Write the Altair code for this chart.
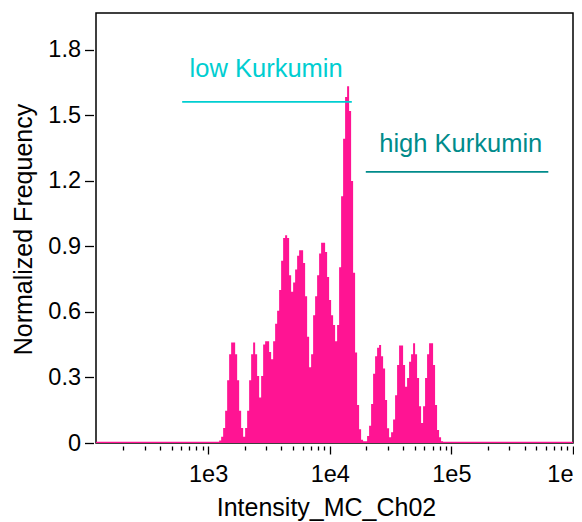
import altair as alt
import pandas as pd

# ---------------- data ----------------
# histogram on log10 bins (regular width in log10 units)
BIN_LOG10_START = 3.0575
BIN_LOG10_WIDTH = 0.01644
FREQ = [
    0.006, 0.006, 0.012, 0.029, 0.069, 0.148, 0.287, 0.406, 0.460, 0.460,
    0.406, 0.287, 0.148, 0.069, 0.029, 0.069, 0.148, 0.287, 0.406, 0.460,
    0.406, 0.307, 0.208, 0.307, 0.451, 0.466, 0.466, 0.416, 0.383, 0.466,
    0.546, 0.605, 0.700, 0.834, 0.938, 0.951, 0.938, 0.768, 0.692, 0.734,
    0.794, 0.857, 0.882, 0.882, 0.824, 0.672, 0.486, 0.347, 0.406, 0.585,
    0.672, 0.768, 0.867, 0.917, 0.917, 0.874, 0.760, 0.654, 0.585, 0.540,
    0.466, 0.540, 0.804, 1.129, 1.393, 1.584, 1.633, 1.519, 1.199, 0.779,
    0.414, 0.174, 0.063, 0.015, 0.008, 0.008, 0.032, 0.079, 0.178, 0.317,
    0.397, 0.436, 0.448, 0.397, 0.341, 0.197, 0.067, 0.026, 0.049, 0.108,
    0.218, 0.357, 0.446, 0.446, 0.357, 0.257, 0.297, 0.372, 0.406, 0.456,
    0.406, 0.297, 0.168, 0.091, 0.168, 0.297, 0.406, 0.456, 0.456, 0.357,
    0.174, 0.059, 0.026, 0.008,
]
BASELINE_FREQ = 0.006
X_DOMAIN = [119.6, 1.0e6]
Y_DOMAIN = [0, 1.968]

X_TICKS = [1e3, 1e4, 1e5, 1e6]
X_MINOR_TICKS = [m * 10 ** e for e in (2, 3, 4, 5) for m in range(2, 10)]
Y_TICKS = [0, 0.3, 0.6, 0.9, 1.2, 1.5, 1.8]

ANNOT_LABELS = ["low Kurkumin", "high Kurkumin"]
ANNOT_COLORS = ["#00CED1", "#008B8B"]
ANNOT_LINE_X1 = [611.4, 19780]
ANNOT_LINE_X2 = [15180, 626700]
ANNOT_LINE_Y = [1.561, 1.2405]
ANNOT_TEXT_X = [2998, 119400]
ANNOT_TEXT_Y = [1.675, 1.332]

FONT = "Liberation Sans"

# ---------------- build tables ----------------
edges = [10 ** (BIN_LOG10_START + i * BIN_LOG10_WIDTH) for i in range(len(FREQ) + 1)]
xs = [X_DOMAIN[0]] + edges + [X_DOMAIN[1]]
ys = [BASELINE_FREQ] + FREQ + [BASELINE_FREQ, BASELINE_FREQ]
hist_df = pd.DataFrame({"x": xs, "y": ys})

annot_df = pd.DataFrame({
    "label": ANNOT_LABELS,
    "color": ANNOT_COLORS,
    "x1": ANNOT_LINE_X1,
    "x2": ANNOT_LINE_X2,
    "ly": ANNOT_LINE_Y,
    "tx": ANNOT_TEXT_X,
    "ty": ANNOT_TEXT_Y,
})

x_scale = alt.Scale(type="log", domain=X_DOMAIN, nice=False)
y_scale = alt.Scale(domain=Y_DOMAIN, nice=False, zero=False)

y_axis = alt.Axis(
    values=Y_TICKS, format=".1~f",
    labelFont=FONT, labelFontSize=23.5, labelColor="black",
    labelPadding=4,
    tickSize=9, tickColor="black", tickWidth=1.3,
    domain=False, grid=False, offset=2.5,
    title="Normalized Frequency",
    titleFont=FONT, titleFontSize=25, titleFontWeight="normal", titleColor="black",
    titleAngle=270, titleX=-62.5, titleY=216,
    titleAlign="center", titleBaseline="alphabetic",
)

x_axis = alt.Axis(
    orient="bottom",
    values=X_TICKS,
    labelExpr="datum.value >= 999999 ? '1e' : '1e' + round(log(datum.value) / LN10)",
    labelAlign={"condition": {"test": "datum.value >= 999999", "value": "right"}, "value": "center"},
    labelFlush=False,
    labelOverlap=False,
    labelFont=FONT, labelFontSize=23.5, labelColor="black",
    labelPadding=8,
    tickSize=8, tickColor="black", tickWidth=1.3,
    domain=False, grid=False, offset=3,
    title="Intensity_MC_Ch02",
    titleFont=FONT, titleFontSize=25, titleFontWeight="normal", titleColor="black",
    titleX=230, titleY=69, titleAlign="center", titleBaseline="alphabetic",
)

x_minor_axis = alt.Axis(
    orient="bottom",
    values=X_MINOR_TICKS,
    labels=False, title=None,
    tickSize=4, tickColor="black", tickWidth=1.3,
    domain=False, grid=False, offset=3,
)

hist = alt.Chart(hist_df).mark_area(
    interpolate="step-after", color="#FF1493", clip=True
).encode(
    x=alt.X("x:Q", scale=x_scale, axis=x_axis),
    y=alt.Y("y:Q", scale=y_scale, axis=y_axis),
)

lines = alt.Chart(annot_df).mark_rule(strokeWidth=1.8).encode(
    x=alt.X("x1:Q", scale=x_scale, axis=x_minor_axis),
    x2="x2:Q",
    y=alt.Y("ly:Q", scale=y_scale, axis=y_axis),
    color=alt.Color("color:N", scale=None, legend=None),
)

texts = alt.Chart(annot_df).mark_text(
    font=FONT, fontSize=25.5, align="center", baseline="alphabetic"
).encode(
    x=alt.X("tx:Q", scale=x_scale, axis=None),
    y=alt.Y("ty:Q", scale=y_scale, axis=y_axis),
    text="label:N",
    color=alt.Color("color:N", scale=None, legend=None),
)

chart = alt.layer(hist, lines, texts).resolve_axis(x="independent").properties(
    width=477,
    height=430,
    autosize=alt.AutoSizeParams(type="none"),
    padding={"left": 88, "top": 5, "right": 1, "bottom": 79},
    background="white",
).configure_view(stroke="black", strokeWidth=1.5)

chart.save("out.html", embed_options={"renderer": "svg", "actions": False})
